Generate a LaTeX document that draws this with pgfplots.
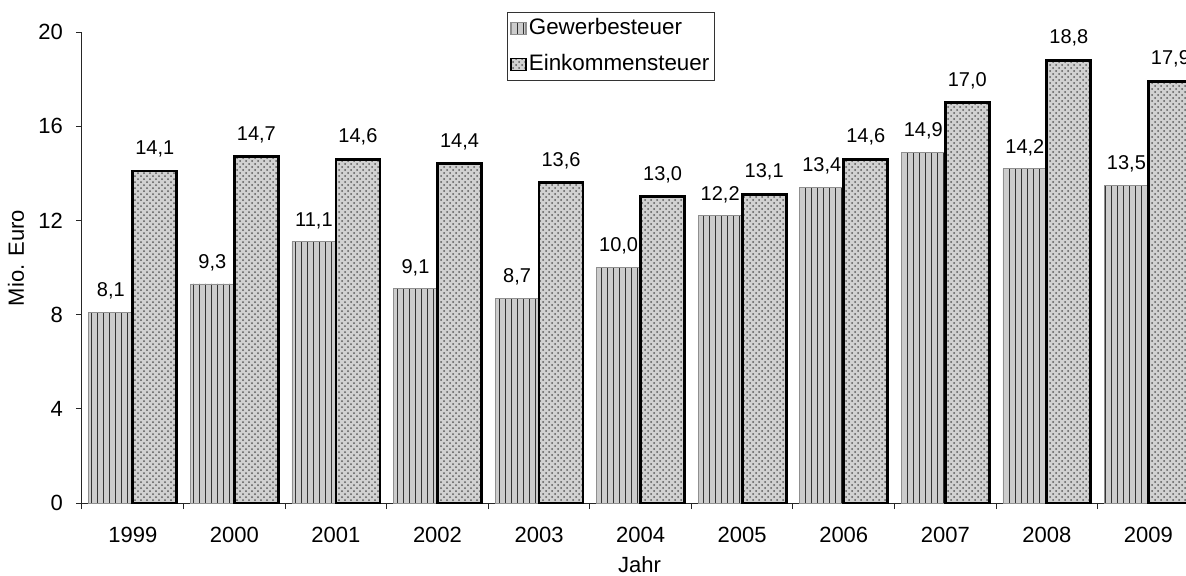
\documentclass[border=0pt]{standalone}
\usepackage{pgfplots}
\pgfplotsset{compat=1.18}
\usepackage{fontspec}
\setmainfont{Liberation Sans}
\usetikzlibrary{patterns}
\definecolor{gwfill}{gray}{0.80}
\definecolor{gwline}{gray}{0.20}
\definecolor{ekfill}{gray}{0.82}
\definecolor{ekdot}{gray}{0.35}
\begin{document}
\begin{tikzpicture}
\begin{axis}[
  scale only axis,
  width=552pt, height=235.5pt,
  at={(0,0)}, anchor=south west,
  xmin=-0.5, xmax=10.37,
  ymin=0, ymax=20,
  axis x line=bottom, axis y line=left,
  axis line style={-, black!85, line width=0.5pt},
  ytick={0,4,8,12,16,20},
  xtick={-0.5,0.5,...,10.5},
  xticklabels={},
  extra x ticks={0,1,2,3,4,5,6,7,8,9,10},
  extra x tick labels={1999,2000,2001,2002,2003,2004,2005,2006,2007,2008,2009},
  extra x tick style={major tick length=0pt},
  tick align=outside,
  major tick length=3pt,
  tick style={black!85, line width=0.5pt},
  /pgf/number format/assume math mode=true,
  tick label style={font=\fontsize{11}{13}\selectfont},
  xticklabel style={yshift=-8.5pt},
  yticklabel style={xshift=-3pt},
  ylabel={Mio. Euro},
  xlabel={Jahr},
  label style={font=\fontsize{11}{13}\selectfont},
  ylabel style={at={(axis description cs:-0.0598,0.52)}, anchor=center},
  xlabel style={at={(axis description cs:0.505,0)}, anchor=center, yshift=-31pt},
  ybar,
  bar width=22pt,
  nodes near coords={\pgfmathprintnumber[fixed,fixed zerofill,precision=1,use comma,assume math mode=true]{\pgfplotspointmeta}},
  nodes near coords style={font=\fontsize{10}{12}\selectfont, anchor=south, yshift=3pt},
  legend style={at={(axis description cs:0.385,1.0425)}, anchor=north west,
    draw=black!80, line width=0.4pt, font=\fontsize{11.2}{13}\selectfont,
    inner xsep=1.5pt, inner ysep=1.5pt, row sep=5pt,
    nodes={inner sep=1pt, text height=8.5pt, text depth=2.5pt},
    /tikz/every even column/.append style={column sep=1pt}},
  legend cell align=left,
  legend image code/.code={\path[#1, line width=0.7pt] (0pt,-3pt) rectangle (7.5pt,3pt);},
]
\addplot[bar shift=-11pt, draw=gwfill!70!black, line width=0.3pt, fill=gwfill,
  postaction={pattern=vertical lines, pattern color=gwline}]
  coordinates {(0,8.1) (1,9.3) (2,11.1) (3,9.1) (4,8.7) (5,10.0) (6,12.2) (7,13.4) (8,14.9) (9,14.2) (10,13.5)};
\addlegendentry{Gewerbesteuer}
\addplot[bar shift=11pt, draw=black, line width=1.4pt, fill=ekfill,
  postaction={pattern=crosshatch dots, pattern color=ekdot}]
  coordinates {(0,14.1) (1,14.7) (2,14.6) (3,14.4) (4,13.6) (5,13.0) (6,13.1) (7,14.6) (8,17.0) (9,18.8) (10,17.9)};
\addlegendentry{Einkommensteuer}
\end{axis}
\pgfresetboundingbox
\path[use as bounding box] (-41pt,-36pt) rectangle (552pt,251.5pt);
\end{tikzpicture}
\end{document}
